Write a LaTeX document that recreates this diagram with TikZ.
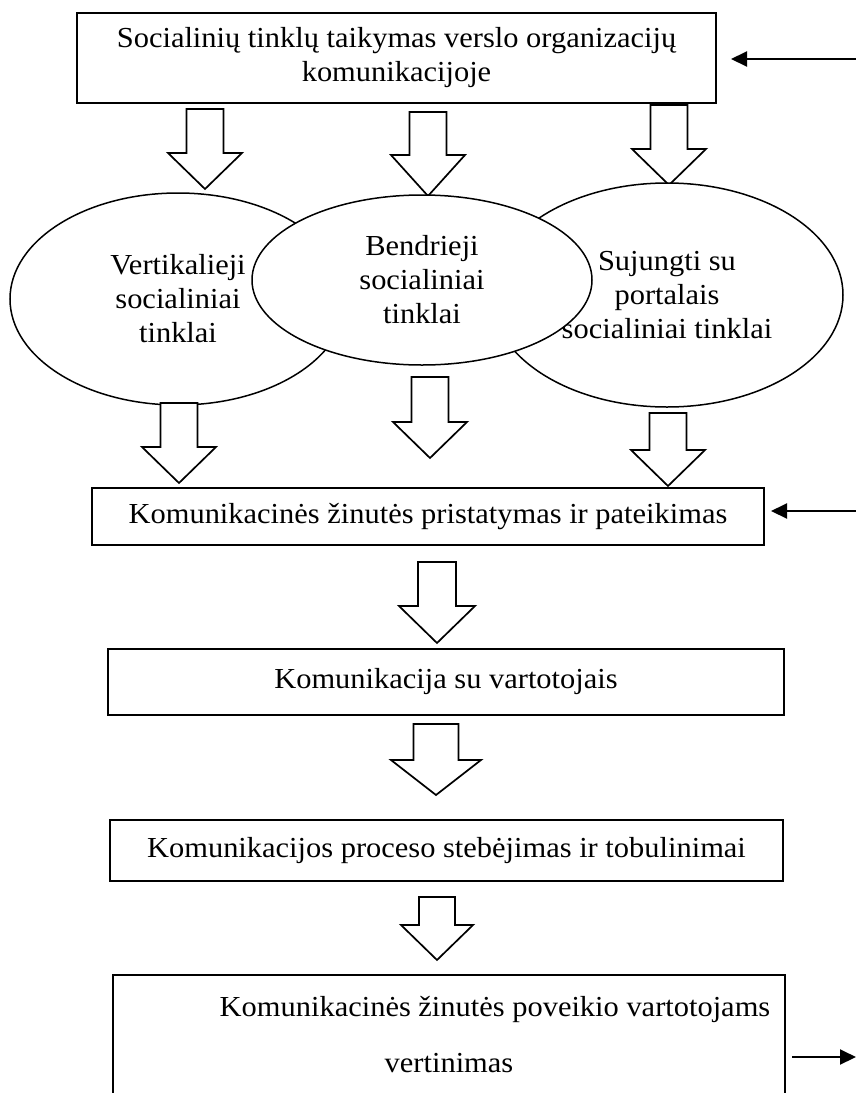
\documentclass[tikz,border=0pt]{standalone}
\usepackage{fontspec}
\setmainfont{Liberation Serif}[FakeStretch=1.05]
\usetikzlibrary{arrows.meta,positioning,shapes.geometric}

\newcommand{\blockarr}[5]{%
  \draw[blk] (#1-#5,#2) -- (#1+#5,#2) -- (#1+#5,#3) -- (#1+2*#5,#3)
    -- (#1,#4) -- (#1-2*#5,#3) -- (#1-#5,#3) -- cycle;}

\begin{document}
\begin{tikzpicture}[
  x=1pt, y=-1pt,
  box/.style={draw, rectangle, line width=2pt, inner sep=0pt,
              align=center, font=\fontsize{29}{34}\selectfont},
  oval/.style={draw, ellipse, line width=1.5pt, fill=white, inner sep=0pt,
               align=center, font=\fontsize{29}{34}\selectfont},
  txt/.style={align=center, inner sep=0pt, font=\fontsize{29}{34}\selectfont},
  blk/.style={line width=1.7pt, fill=white, draw, line join=miter},
  feed/.style={line width=2pt, -{Triangle[length=16pt,width=15pt]}}
]
\useasboundingbox (0,0) rectangle (856,1093);

\node[box, minimum width=639pt, minimum height=90pt] (soc) at (396.5,58)
  {Socialinių tinklų taikymas verslo organizacijų\\komunikacijoje};

\blockarr{205}{109}{153}{189}{18.5}
\blockarr{428}{112}{155}{196}{18.5}
\blockarr{669}{105}{149}{185}{18.5}

\node[oval, minimum width=336pt, minimum height=212pt] (vert) at (178,299)
  {Vertikalieji\\socialiniai\\tinklai};
\node[oval, minimum width=352pt, minimum height=224pt] (sujung) at (667,295)
  {Sujungti su\\portalais\\socialiniai tinklai};
\node[oval, minimum width=340pt, minimum height=170pt] (bendr) at (422,280)
  {Bendrieji\\socialiniai\\tinklai};

\blockarr{179}{403}{447}{483}{18.5}
\blockarr{430}{377}{422}{458}{18.5}
\blockarr{668}{413}{450}{486}{18.5}

\node[box, minimum width=672pt, minimum height=57pt] (pris) at (428,516.5)
  {Komunikacinės žinutės pristatymas ir pateikimas};

\blockarr{437}{562}{606}{643}{19}

\node[box, minimum width=676pt, minimum height=66pt] (komv) at (446,682)
  {Komunikacija su vartotojais};

\blockarr{436}{724}{760}{795}{22.5}

\node[box, minimum width=673pt, minimum height=61pt] (steb) at (446.5,850.5)
  {Komunikacijos proceso stebėjimas ir tobulinimai};

\blockarr{437}{897}{925}{960}{18}

\node[box, minimum width=672pt, minimum height=155pt] (vertin) at (449,1052.5) {};
\node[txt] (vertintxt) at (449,1035)
  {\hspace*{92pt}Komunikacinės žinutės poveikio vartotojams\\[22pt]vertinimas};

\coordinate (in1) at (856,59);
\coordinate (in2) at (856,511);
\coordinate (out1) at (856,1057);
\draw[feed, shorten >=14pt] (in1) -- (soc.east |- in1);
\draw[feed, shorten >=6pt] (in2) -- (pris.east |- in2);
\draw[feed, shorten <=6pt] (vertin.east |- out1) -- (out1);
\end{tikzpicture}
\end{document}
